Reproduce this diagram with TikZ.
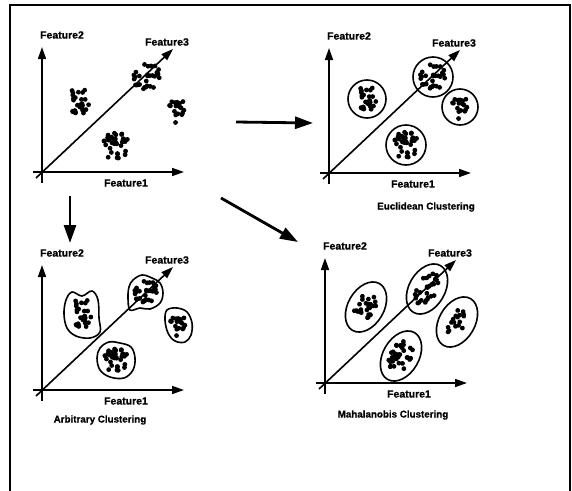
\documentclass[tikz,border=0pt]{standalone}
\usepackage{fontspec}
\setmainfont{Liberation Sans}
\newfontfamily\heavyfont{Liberation Sans Bold}[FakeBold=0.8]
\usetikzlibrary{arrows.meta}
\tikzset{
  axis/.style={line width=1.6pt,-{Triangle[length=12pt,width=8pt]}},
  bigarrow/.style={line width=2.8pt,-{Triangle[length=18pt,width=12pt]}},
  lab/.style={font=\heavyfont\fontsize{10.5}{12}\selectfont, inner sep=0pt},
  captext/.style={font=\heavyfont\fontsize{9.8}{11}\selectfont, inner sep=0pt},
  outline/.style={line width=1.6pt},
  frameline/.style={line width=1.8pt},
}
\newcommand\dotcluster[7]{%
  \pgfmathsetseed{#7}%
  \begin{scope}[shift={(#1,#2)},rotate=#5]
    \foreach \k in {1,...,#6}{
      \pgfmathsetmacro\ang{360*rnd}
      \pgfmathsetmacro\rad{sqrt(rnd)}
      \fill ({#3*\rad*cos(\ang)},{#4*\rad*sin(\ang)}) circle (2.4);
    }
  \end{scope}}
\newcommand\axespanel[3]{%
  \begin{scope}[shift={(#2,#3)}]
    \coordinate (#1-xs) at (-9,0);  \coordinate (#1-xt) at (142,0);
    \coordinate (#1-ys) at (0,11);  \coordinate (#1-yt) at (0,-125);
    \coordinate (#1-ds) at (-6,6);  \coordinate (#1-dt) at (131,-123);
    \draw[axis] (#1-xs) -- (#1-xt);
    \draw[axis] (#1-ys) -- (#1-yt);
    \draw[axis] (#1-ds) -- (#1-dt);
    \node[lab] (#1-f2) at (20,-137) {Feature2};
    \node[lab] (#1-f3) at (125,-130) {Feature3};
    \node[lab] (#1-f1) at (84,11) {Feature1};
  \end{scope}}
\begin{document}
\begin{tikzpicture}[x=1pt,y=-1pt]
\useasboundingbox (0,0) rectangle (572,490);
\draw[frameline] (10,492) -- (10,5) -- (570,5) -- (570,492);

% ---------- panel 1: raw data
\axespanel{p1}{42}{172}
\dotcluster{79}{102}{13}{14}{0}{26}{11}
\dotcluster{147}{77}{14}{13}{40}{28}{12}
\dotcluster{177}{110}{8}{13}{0}{18}{13}
\dotcluster{116}{146}{14}{14}{0}{34}{14}

% ---------- panel 2: Euclidean
\axespanel{p2}{329}{173}
\dotcluster{367}{99}{12}{13}{0}{26}{11}
\dotcluster{433}{77}{13}{13}{40}{28}{12}
\dotcluster{460}{107}{8}{12}{0}{18}{13}
\dotcluster{406}{145}{13}{14}{0}{34}{14}
\draw[outline] (367,99) circle (19);
\draw[outline] (433,77) circle (20);
\draw[outline] (460,107) circle (18);
\draw[outline] (406,145) circle (20);
\node[captext] (cap2) at (426,207) {Euclidean Clustering};

% ---------- panel 3: Arbitrary
\axespanel{p3}{42}{390}
\dotcluster{82}{314}{12}{16}{0}{26}{11}
\dotcluster{146}{292}{12}{11}{40}{28}{12}
\dotcluster{178}{325}{8}{11}{0}{18}{13}
\dotcluster{116}{360}{13}{12}{0}{34}{14}
\draw[outline] plot[smooth cycle,tension=0.6] coordinates
  {(66,300) (72,292) (82,296) (92,291) (98,300) (99,318) (100,332) (90,338) (76,336) (67,328) (64,314)};
\draw[outline] plot[smooth cycle,tension=0.6] coordinates
  {(133,280) (142,275) (152,278) (160,283) (163,293) (160,303) (150,309) (140,308) (130,310) (128,298) (129,287)};
\draw[outline] plot[smooth cycle,tension=0.6] coordinates
  {(167,310) (177,308) (187,312) (192,323) (191,335) (185,342) (175,341) (168,333) (165,320)};
\draw[outline] plot[smooth cycle,tension=0.6] coordinates
  {(100,348) (109,342) (120,343) (131,347) (135,358) (133,370) (124,378) (110,377) (100,370) (97,358)};
\node[captext] (cap3) at (100,420) {Arbitrary Clustering};

% ---------- panel 4: Mahalanobis
\axespanel{p4}{325}{383}
\dotcluster{366}{307}{17}{10}{60}{26}{11}
\dotcluster{427}{289}{17}{10}{60}{28}{12}
\dotcluster{457}{322}{14}{8}{60}{18}{13}
\dotcluster{401}{356}{17}{11}{60}{34}{14}
\draw[outline,rotate around={60:(366,307)}] (366,307) ellipse (27 and 18);
\draw[outline,rotate around={60:(427,289)}] (427,289) ellipse (27 and 18);
\draw[outline,rotate around={60:(457,322)}] (457,322) ellipse (27 and 18);
\draw[outline,rotate around={60:(401,356)}] (401,356) ellipse (27 and 18);
\node[captext] (cap4) at (393,415) {Mahalanobis Clustering};

% ---------- arrows between panels
\coordinate (a1s) at (236,122); \coordinate (a1t) at (313,123);
\coordinate (a2s) at (221,198); \coordinate (a2t) at (298,242);
\coordinate (a3s) at (70,196);  \coordinate (a3t) at (70,243);
\draw[bigarrow] (a1s) -- (a1t);
\draw[bigarrow] (a2s) -- (a2t);
\draw[bigarrow] (a3s) -- (a3t);
\end{tikzpicture}
\end{document}
